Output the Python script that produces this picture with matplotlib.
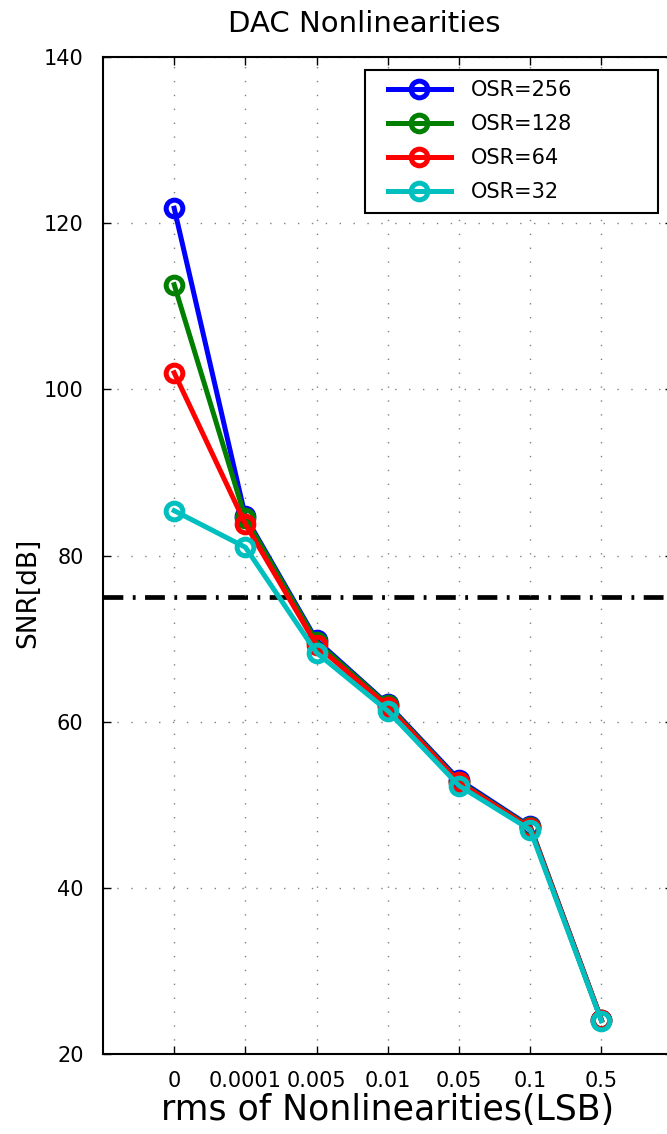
import matplotlib
matplotlib.use("Agg")
import matplotlib.pyplot as plt
from matplotlib.patches import Rectangle

plt.rcParams['font.family'] = ['DejaVu Sans']

# rms nonlinearity levels (LSB), plotted as evenly spaced categories
levels = ["0", "0.0001", "0.005", "0.01", "0.05", "0.1", "0.5"]

snr_osr256 = [121.8, 84.7, 69.8, 62.1, 53.0, 47.4, 24.1]
snr_osr128 = [112.6, 84.5, 69.6, 62.0, 52.8, 47.3, 24.1]
snr_osr64 = [102.0, 83.8, 69.2, 61.8, 52.7, 47.2, 24.1]
snr_osr32 = [85.4, 81.0, 68.3, 61.3, 52.3, 47.0, 24.0]

series_labels = ["OSR=256", "OSR=128", "OSR=64", "OSR=32"]
series_colors = ["#0000ff", "#007f00", "#ff0000", "#00bfbf"]

snr_target = 75.0

W, H = 667, 1134
fig = plt.figure(figsize=(W / 100, H / 100), dpi=100)
ax = fig.add_axes([0.1544, 0.0705, 0.8540, 0.8792])

x = list(range(len(levels)))
for vals, lab, col in zip([snr_osr256, snr_osr128, snr_osr64, snr_osr32],
                          series_labels, series_colors):
    ax.plot(x, vals, color=col, lw=3.6, marker='o', markersize=12,
            markerfacecolor='none', markeredgewidth=3.6,
            markeredgecolor=col, label=lab)

ax.axhline(snr_target, color='black', lw=3.4,
           linestyle=(0, (4.2, 2.0, 0.6, 2.0)), zorder=1)

ax.set_xlim(-1, 7)
ax.set_ylim(20, 140)
ax.set_xticks(x)
ax.set_xticklabels(levels)
ax.set_yticks([20, 40, 60, 80, 100, 120, 140])

ax.grid(True, color='#808080', lw=1.0, linestyle=(0, (1, 9)))
ax.tick_params(direction='in', top=True, right=True, length=6, width=1,
               labelsize=15, pad=12)
ax.tick_params(axis='y', pad=14)
for s in ax.spines.values():
    s.set_linewidth(1.5)

ax.set_title("DAC Nonlinearities", fontsize=21, pad=18, x=0.458)
ax.set_xlabel("rms of Nonlinearities(LSB)", fontsize=25, labelpad=2)
ax.set_ylabel("SNR[dB]", fontsize=19, labelpad=2, y=0.4624)

# legend entries without frame, boxed by a separate rectangle
box = Rectangle((365 / W, 1 - 213 / H), 293 / W, 143 / H,
                transform=fig.transFigure, fill=True, facecolor='white',
                edgecolor='black', lw=1.5, clip_on=False, zorder=4)
ax.add_artist(box)
leg = ax.legend(loc='upper left', bbox_to_anchor=(388 / W, 1 - 80 / H),
                bbox_transform=fig.transFigure, frameon=False,
                fontsize=15, handlelength=3.0, borderpad=0,
                labelspacing=0.68, handletextpad=1.0, borderaxespad=0)
leg.set_zorder(5)

fig.savefig("out.png", dpi=100)
